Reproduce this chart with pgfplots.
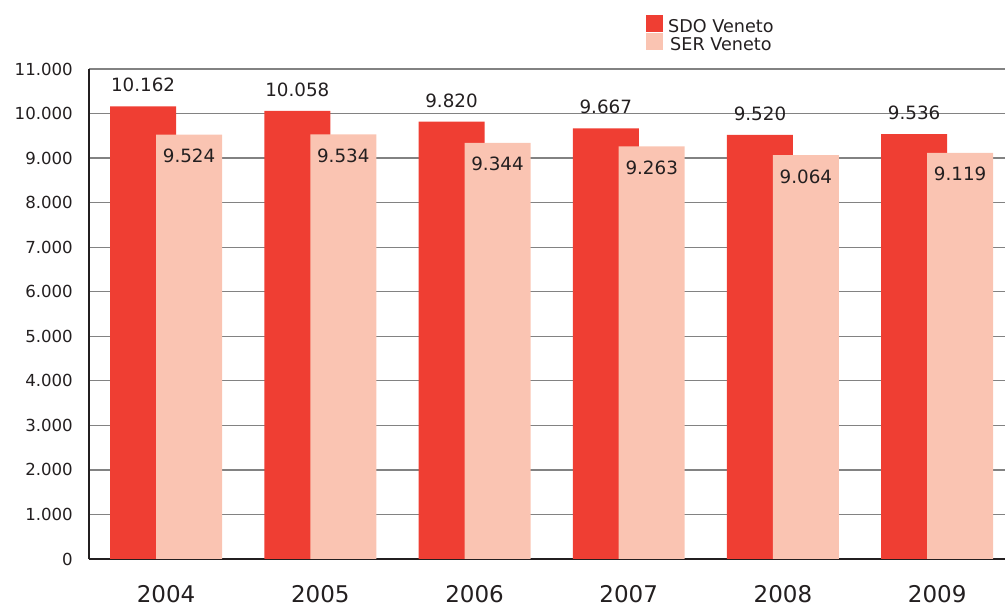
\documentclass[border=0pt]{standalone}
\usepackage{fontspec}
\setmainfont{DejaVu Sans}
\usepackage{pgfplots}
\pgfplotsset{compat=1.18}
\definecolor{sdo}{RGB}{239,62,51}
\definecolor{ser}{RGB}{250,196,178}
\definecolor{txt}{RGB}{35,31,32}
\definecolor{gridc}{RGB}{130,130,130}
\begin{document}
\begin{tikzpicture}
\useasboundingbox (0,0) rectangle (1005bp,607bp);
\begin{axis}[at={(89bp,48bp)}, anchor=south west, scale only axis,
  width=916bp, height=490bp,
  xmin=-0.5, xmax=5.44, ymin=0, ymax=11000,
  ytick={0,1000,...,11000}, xtick={0,...,5},
  xticklabels={2004,2005,2006,2007,2008,2009},
  scaled y ticks=false,
  axis x line*=bottom, axis y line*=left,
  axis line style={-, draw=txt, line width=1.5bp},
  ymajorgrids, grid style={gridc, line width=1.3bp},
  major tick length=0pt,
  /pgf/number format/1000 sep={.},
  /pgf/number format/assume math mode=true,
  yticklabel style={font=\fontsize{16.6bp}{20bp}\selectfont, text=txt, anchor=east, inner sep=0pt, xshift=-16bp},
  xticklabel style={font=\fontsize{23bp}{28bp}\selectfont, text=txt, anchor=north, inner sep=0pt, yshift=-26bp},
  ybar, bar width=0.428,
  nodes near coords,
  every node near coord/.append style={font=\fontsize{18.3bp}{22bp}\selectfont, text=txt},
  legend style={draw=none, fill=none, at={(0.6081,1.1102)}, anchor=north west,
    inner sep=0pt, row sep=0pt, font=\fontsize{17.6bp}{22bp}\selectfont, text=txt,
    nodes={inner sep=0pt, text height=16.5bp, text depth=0.5bp, yshift=7bp}},
  legend image code/.code={\fill (0bp,-0.5bp) rectangle (17bp,16.5bp); \path (22bp,0bp);},
]
\addplot[fill=sdo, draw=none, bar shift=-0.149,
  nodes near coords style={anchor=south, inner sep=0pt, yshift=14bp}]
  coordinates {(0,10162)(1,10058)(2,9820)(3,9667)(4,9520)(5,9536)};
\addplot[fill=ser, draw=none, bar shift=0.149,
  nodes near coords style={anchor=north, inner sep=0pt, yshift=-14bp}]
  coordinates {(0,9524)(1,9534)(2,9344)(3,9263)(4,9064)(5,9119)};
\legend{SDO Veneto, SER Veneto}
\end{axis}
\end{tikzpicture}
\end{document}
